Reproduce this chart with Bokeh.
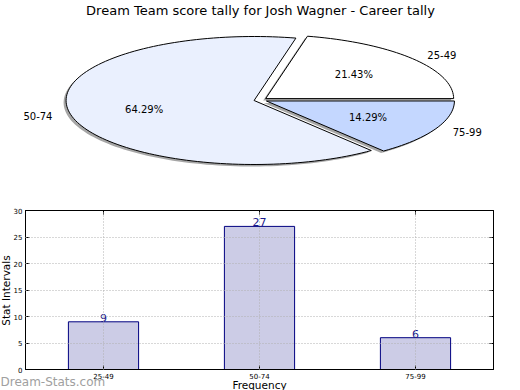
import math
from bokeh.plotting import figure
from bokeh.layouts import column
from bokeh.models import Range1d, FactorRange, FixedTicker, LinearAxis, CategoricalAxis, ColumnDataSource
from bokeh.core.properties import value
from bokeh.embed import file_html
from bokeh.resources import INLINE

# ---- data ----
title_text = "Dream Team score tally for Josh Wagner - Career tally"
categories = ["25-49", "50-74", "75-99"]
counts = [9, 27, 6]
slice_colors = ["#ffffff", "#eaf0fe", "#c4d7ff"]
y_ticks = [0, 5, 10, 15, 20, 25, 30]
y_label = "Stat Intervals"
x_label = "Frequency"
watermark = "Dream-Stats.com"

FONT = value("DejaVu Sans")
W, H = 520, 390
BAR_TOP = 190
BAR_H = H - BAR_TOP

# ---------------- background figure: pie + free texts ----------------
pie = figure(width=W, height=H, output_backend="svg", toolbar_location=None,
             x_range=Range1d(0, W), y_range=Range1d(H, 0), min_border=0,
             outline_line_color=None, frame_align=False)
pie.axis.visible = False
pie.grid.visible = False

cx, cy, rx, ry = 260.0, 99.5, 188.0, 64.0
explode = 0.035
total = float(sum(counts))
start = 0.0
wedges_x, wedges_y, sh_x, sh_y = [], [], [], []
lab_x, lab_y, lab_align, pct_x, pct_y, pct_t = [], [], [], [], [], []
for c, v in zip(categories, counts):
    frac = v / total
    a0 = start * 2 * math.pi
    a1 = (start + frac) * 2 * math.pi
    mid = (a0 + a1) / 2
    ox = cx + explode * rx * math.cos(mid)
    oy = cy - explode * ry * math.sin(mid)
    n = max(8, int(frac * 200))
    xs = [ox] + [ox + rx * math.cos(a0 + (a1 - a0) * i / n) for i in range(n + 1)]
    ys = [oy] + [oy - ry * math.sin(a0 + (a1 - a0) * i / n) for i in range(n + 1)]
    wedges_x.append(xs)
    wedges_y.append(ys)
    sh_x.append([x - 2.5 for x in xs])
    sh_y.append([y + 2.0 for y in ys])
    lab_x.append(ox + 1.1 * rx * math.cos(mid))
    lab_y.append(oy - 1.1 * ry * math.sin(mid))
    lab_align.append("left" if math.cos(mid) > 0 else "right")
    pct_x.append(ox + 0.6 * rx * math.cos(mid))
    pct_y.append(oy - 0.6 * ry * math.sin(mid))
    pct_t.append("%.2f%%" % (frac * 100))
    start += frac

pie.patches(sh_x, sh_y, fill_color="#4d4d4d", fill_alpha=0.5, line_color=None)
pie.patches(wedges_x, wedges_y, fill_color=slice_colors, line_color="black", line_width=1)
pie.text(x=lab_x, y=lab_y, text=categories, text_align=lab_align, text_baseline="middle",
         text_font=FONT, text_font_size="10px", text_color="black")
pie.text(x=pct_x, y=pct_y, text=pct_t, text_align="center", text_baseline="middle",
         text_font=FONT, text_font_size="10px", text_color="black")
pie.text(x=[260], y=[2], text=[title_text], text_align="center", text_baseline="top",
         text_font=FONT, text_font_size="13px", text_color="black")
# axis title texts and watermark (sit around the bar chart)
pie.text(x=[5], y=[290], text=[y_label], angle=math.pi / 2, text_align="center",
         text_baseline="middle", text_font=FONT, text_font_size="10.5px", text_color="black")
pie.text(x=[259], y=[384], text=[x_label], text_align="center", text_baseline="middle",
         text_font=FONT, text_font_size="10.5px", text_color="black")
pie.text(x=[0], y=[381], text=[watermark], text_align="left", text_baseline="middle",
         text_font=FONT, text_font_size="12px", text_color="#a0a0a0")

# ---------------- bars (overlaid on the lower part) ----------------
bar = figure(width=W, height=BAR_H, output_backend="svg", toolbar_location=None,
             x_range=FactorRange(*categories), y_range=Range1d(0, 30),
             min_border_left=25, min_border_right=27, min_border_top=20, min_border_bottom=21,
             outline_line_color="black", outline_line_width=1, frame_align=False,
             border_fill_alpha=0, margin=(-BAR_H, 0, 0, 0))
src = ColumnDataSource(dict(cat=categories, n=counts, lbl=[str(c) for c in counts]))
bar.vbar(x="cat", top="n", width=0.45, source=src, fill_color="#ccccE6", line_color="#000080", line_width=1)
bar.text(x="cat", y="n", text="lbl", source=src, text_align="center", text_baseline="bottom",
         text_font=FONT, text_font_size="11px", text_color="#1a1a8c", y_offset=0)

for g in (bar.xgrid, bar.ygrid):
    g.grid_line_color = "#b0b0b0"
    g.grid_line_dash = "1 2"
    g.grid_line_width = 1
    g.level = "overlay"
bar.yaxis.ticker = FixedTicker(ticks=y_ticks)
bar.ygrid.ticker = FixedTicker(ticks=y_ticks)

for ax in (bar.xaxis[0], bar.yaxis[0]):
    ax.major_tick_in = 4
    ax.major_tick_out = 0
    ax.minor_tick_in = 0
    ax.minor_tick_out = 0
    ax.major_label_text_font = "DejaVu Sans"
    ax.major_label_text_font_size = "7px"
    ax.major_label_text_color = "black"
    ax.major_label_standoff = 3
    ax.axis_line_color = "black"

ra = LinearAxis(ticker=FixedTicker(ticks=y_ticks), major_label_text_color=None,
                major_label_text_font_size="7px",
                major_tick_in=4, major_tick_out=0, minor_tick_in=0, minor_tick_out=0,
                major_label_standoff=3)
bar.add_layout(ra, "right")
ta = CategoricalAxis(major_label_text_color=None, major_label_text_font_size="7px",
                     major_tick_in=4, major_tick_out=0, major_label_standoff=3)
bar.add_layout(ta, "above")

layout = column(pie, bar, spacing=0)
open("out.html", "w").write(file_html(layout, INLINE))
